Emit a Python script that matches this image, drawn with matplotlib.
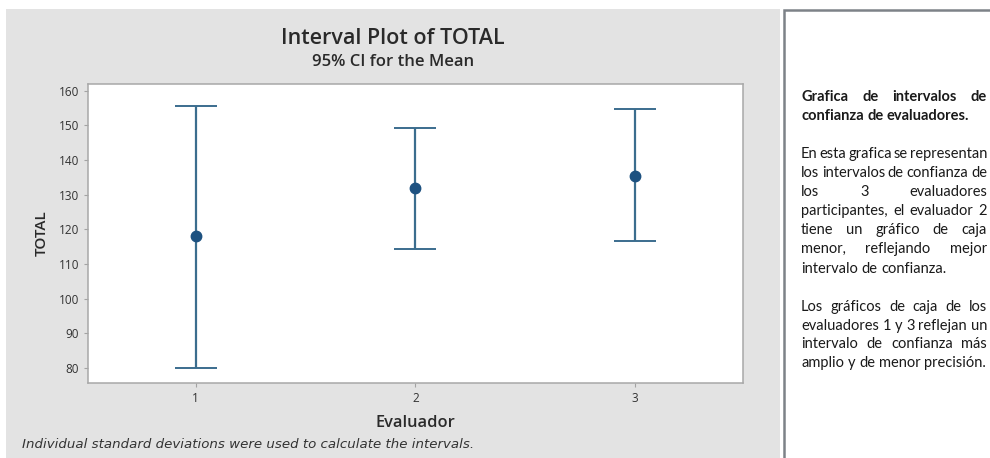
import matplotlib
matplotlib.use("Agg")
import matplotlib.pyplot as plt
from matplotlib.patches import Rectangle

# data
evaluators = [1, 2, 3]
means = [118.0, 131.8, 135.5]
ci_low = [80.0, 114.2, 116.6]
ci_high = [155.5, 149.1, 154.6]

y_ticks = [80, 90, 100, 110, 120, 130, 140, 150, 160]

panel_paragraphs = [
    (True, ["Grafica de intervalos de", "confianza de evaluadores."]),
    (False, ["En esta grafica se representan",
             "los intervalos de confianza de",
             "los 3 evaluadores",
             "participantes, el evaluador 2",
             "tiene un gráfico de caja",
             "menor, reflejando mejor",
             "intervalo de confianza."]),
    (False, ["Los gráficos de caja de los",
             "evaluadores 1 y 3 reflejan un",
             "intervalo de confianza más",
             "amplio y de menor precisión."]),
]

W, H = 990, 458
fig = plt.figure(figsize=(W / 100, H / 100), dpi=100)
fig.patch.set_facecolor("white")


def fx(px):
  return px / W


def fy(py):
  return 1 - py / H


CHART_FONT = ["Open Sans", "DejaVu Sans"]
PANEL_FONT = ["Lato", "DejaVu Sans"]

# gray chart background
fig.patches.append(Rectangle((fx(6), fy(H)), fx(780) - fx(6), fy(9) - fy(H),
                             transform=fig.transFigure, facecolor="#e3e3e3",
                             edgecolor="none", zorder=-2))

# right text panel frame
fig.patches.append(Rectangle((fx(784), fy(H + 10)), fx(W + 10) - fx(784), fy(10) - fy(H + 10),
                             transform=fig.transFigure, facecolor="white",
                             edgecolor="#7d8288", linewidth=1.8, zorder=-2))

# plot area
ax = fig.add_axes([fx(88), fy(383), fx(743) - fx(88), fy(84) - fy(383)])
ax.set_facecolor("white")

yerr = [[m - lo for m, lo in zip(means, ci_low)],
        [hi - m for m, hi in zip(means, ci_high)]]
ax.errorbar(evaluators, means, yerr=yerr, fmt="o", color="#1d5180",
            ecolor="#3b6d8e", elinewidth=1.6, capsize=15, capthick=1.4,
            markersize=7.5, zorder=3)

ax.set_xlim(0.51, 3.49)
ax.set_ylim(75.7, 161.9)
ax.set_yticks(y_ticks)
ax.set_xticks(evaluators)
ax.set_xticklabels([str(e) for e in evaluators])

for spine in ax.spines.values():
  spine.set_color("#a8a8a8")
  spine.set_linewidth(1.1)

ax.tick_params(axis="both", colors="#a3a3a3", labelcolor="#333333",
               labelsize=8.5, length=3, width=0.8)
for lbl in ax.get_xticklabels() + ax.get_yticklabels():
  lbl.set_family(CHART_FONT)

ax.set_ylabel("TOTAL", fontsize=11, fontweight="semibold", color="#2a2a2a",
              family=CHART_FONT, labelpad=7)
ax.set_xlabel("Evaluador", fontsize=11.8, fontweight="semibold", color="#2a2a2a",
              family=CHART_FONT, labelpad=7)

# titles
fig.text(fx(393), fy(38), "Interval Plot of TOTAL", ha="center", va="center",
         fontsize=15.5, fontweight="semibold", color="#2a2a2a", family=CHART_FONT)
fig.text(fx(393), fy(62), "95% CI for the Mean", ha="center", va="center",
         fontsize=12, fontweight="semibold", color="#2a2a2a", family=CHART_FONT)

# footnote
fig.text(fx(22), fy(444), "Individual standard deviations were used to calculate the intervals.",
         ha="left", va="center", fontsize=9.6, style="italic", color="#333333",
         family=["DejaVu Sans"])

# justified text panel
renderer = fig.canvas.get_renderer()
left_px, right_px = 801, 987
size = 10.5
line_y = [97, 116, 154, 173, 192, 211, 230, 249, 269, 307, 326, 344, 363]
k = 0
for bold, lines in panel_paragraphs:
  weight = "bold" if bold else "normal"
  probe_two = fig.text(0, 0, "a a", fontsize=size, fontweight=weight, family=PANEL_FONT)
  probe_one = fig.text(0, 0, "aa", fontsize=size, fontweight=weight, family=PANEL_FONT)
  sp = probe_two.get_window_extent(renderer).width - probe_one.get_window_extent(renderer).width
  probe_two.remove()
  probe_one.remove()
  for i, line in enumerate(lines):
    y = fy(line_y[k])
    k += 1
    words = line.split()
    last = i == len(lines) - 1
    texts = [fig.text(0, y, w, ha="left", va="center", fontsize=size,
                      fontweight=weight, color="#1a1a1a", family=PANEL_FONT)
             for w in words]
    widths = [t.get_window_extent(renderer).width for t in texts]
    if last or len(words) == 1:
      gap = sp
    else:
      gap = (right_px - left_px - sum(widths)) / (len(words) - 1)
    x = left_px
    for t, wd in zip(texts, widths):
      t.set_x(fx(x))
      x += wd + gap

fig.savefig("out.png", dpi=100)
